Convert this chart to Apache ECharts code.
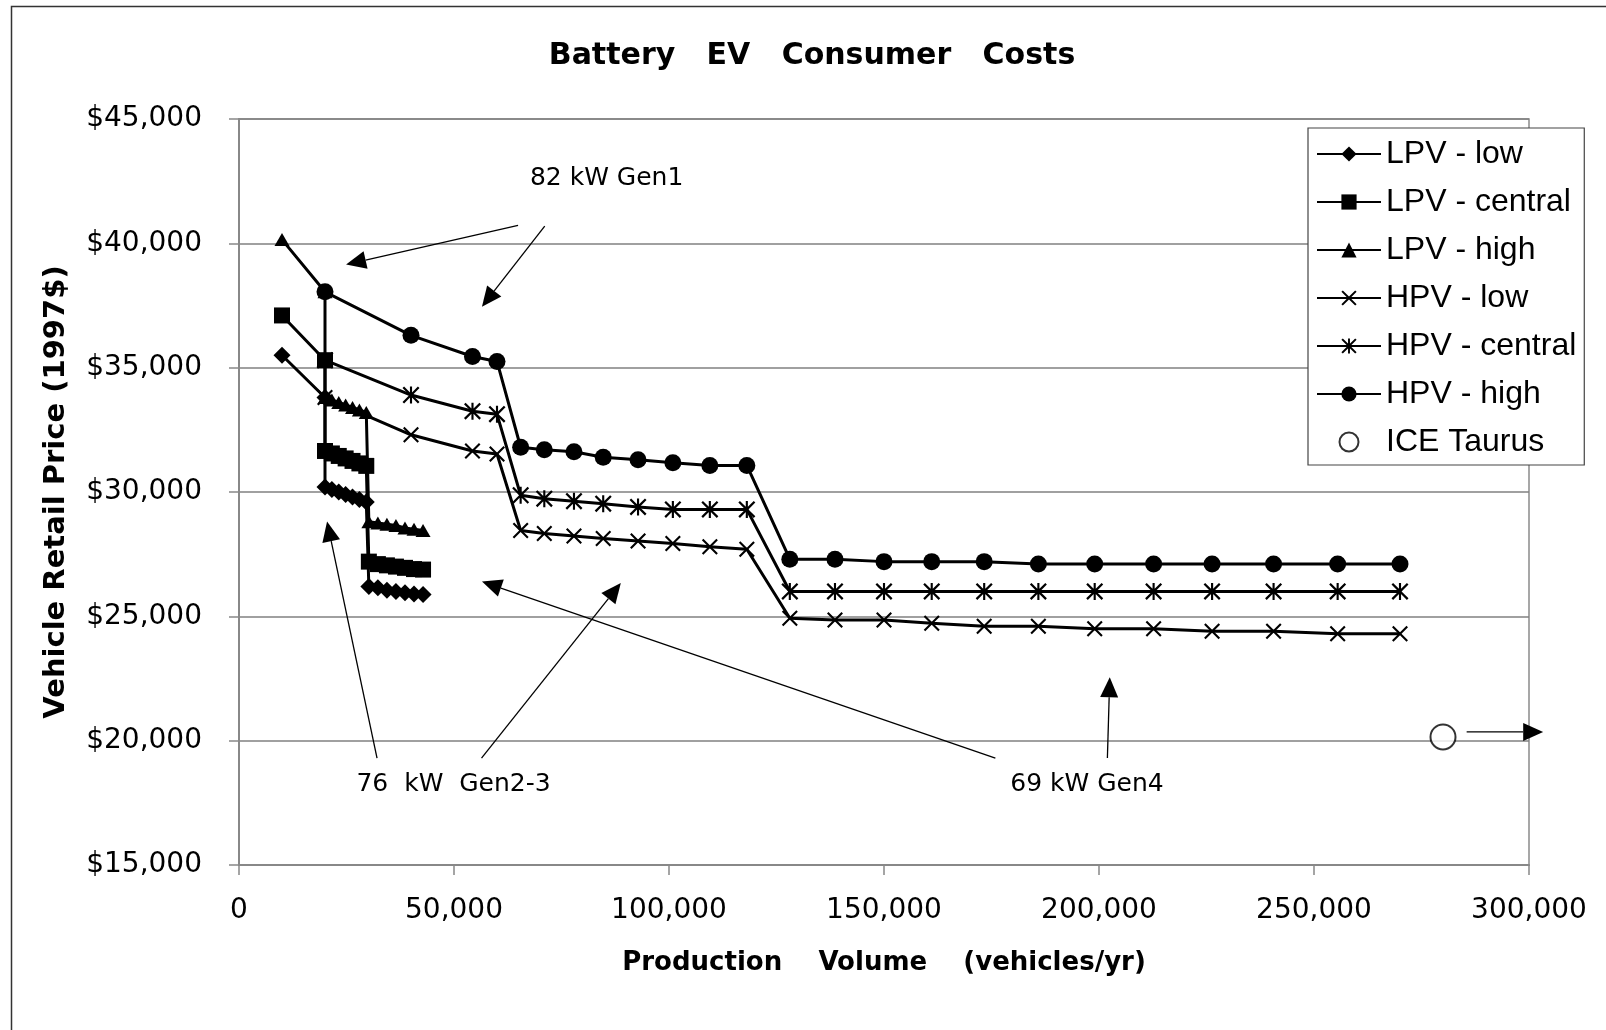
<!DOCTYPE html>
<html><head><meta charset="utf-8">
<script src="https://cdn.jsdelivr.net/npm/echarts@6/dist/echarts.min.js"></script>
<style>html,body{margin:0;padding:0;background:#fff}#c{width:1606px;height:1030px}</style>
</head><body><div id="c"></div>
<script>
// ---- data ----
const lpvX       = [10000, 20000, 20000, 21600, 23200, 24800, 26400, 28000, 29600, 30200, 32300, 34400, 36500, 38600, 40700, 42800];
const lpvLow     = [35500, 33800, 30200, 30100, 30000, 29900, 29800, 29700, 29600, 26200, 26150, 26050, 26000, 25950, 25900, 25880];
const lpvCentral = [37100, 35300, 31650, 31550, 31450, 31350, 31250, 31150, 31050, 27200, 27100, 27050, 27000, 26950, 26900, 26880];
const lpvHigh    = [40150, 38050, 33800, 33700, 33600, 33500, 33400, 33300, 33200, 28800, 28750, 28700, 28650, 28550, 28500, 28450];

const hpvX       = [20000, 40000, 54300, 60000, 65500, 71000, 77900, 84700, 92800, 100900, 109500, 118100, 128100, 138600, 150000, 161100, 173300, 185900, 199000, 212700, 226300, 240600, 255500, 270000];
const hpvLow     = [33800, 32300, 31650, 31530, 28450, 28330, 28230, 28130, 28030, 27930, 27800, 27700, 24920, 24850, 24850, 24720, 24600, 24600, 24500, 24500, 24400, 24400, 24300, 24300];
const hpvCentral = [35300, 33900, 33250, 33130, 29870, 29730, 29630, 29530, 29400, 29300, 29300, 29300, 26000, 26000, 26000, 26000, 26000, 26000, 26000, 26000, 26000, 26000, 26000, 26000];
const hpvHigh    = [38050, 36300, 35450, 35250, 31800, 31700, 31620, 31400, 31300, 31180, 31070, 31070, 27300, 27300, 27200, 27200, 27200, 27100, 27100, 27100, 27100, 27100, 27100, 27100];

const iceX = [280000];
const iceY = [20150];

const seriesNames = ['LPV - low', 'LPV - central', 'LPV - high', 'HPV - low', 'HPV - central', 'HPV - high', 'ICE Taurus'];

// annotations (data units)
const annotX    = [85500, 49900, 197200];
const annotY    = [42610, 18250, 18250];
const annotText = ['82 kW Gen1', '76  kW  Gen2-3', '69 kW Gen4'];

const arrowFromX = [64900, 71100, 32100, 56400, 175900, 201950, 285500];
const arrowFromY = [40720, 40690, 19300, 19300, 19300, 19300, 20350];
const arrowToX   = [24900, 56500, 20480, 88800, 56500, 202500, 303300];
const arrowToY   = [39150, 37450, 28810, 26340, 26400, 22550, 20350];

const xTicks = { min: 0, max: 300000, interval: 50000 };
const yTicks = { min: 15000, max: 45000, interval: 5000 };

// ---- helpers ----
const zip = (xs, ys) => xs.map((x, i) => [x, ys[i]]);
const fmt = v => v.toLocaleString('en-US');

const X_PATH = 'path://M0,1.5L1.5,0L8,6.5L14.5,0L16,1.5L9.5,8L16,14.5L14.5,16L8,9.5L1.5,16L0,14.5L6.5,8Z';
const AST_PATH = 'path://M0,1.5L1.5,0L8,6.5L14.5,0L16,1.5L9.5,8L16,14.5L14.5,16L8,9.5L1.5,16L0,14.5L6.5,8Z M7,0L9,0L9,16L7,16Z';

function lineSeries(name, data, symbol, size) {
  return {
    name, type: 'line', data, symbol, symbolSize: size,
    showAllSymbol: true,
    lineStyle: { color: '#000', width: 3 },
    itemStyle: { color: '#000' },
    emphasis: { disabled: true },
    z: 3
  };
}

const chart = echarts.init(document.getElementById('c'), null, { renderer: 'canvas' });

const option = {
  animation: false,
  backgroundColor: '#fff',
  graphic: [
    { type: 'rect', left: 9, top: 4, shape: { width: 1700, height: 1100 }, style: { fill: 'none', stroke: '#333', lineWidth: 1.5 }, z: -10 },
    { type: 'text', x: 812, y: 56, style: { text: 'Battery   EV   Consumer   Costs', font: 'bold 30px "DejaVu Sans"', fill: '#000', textAlign: 'center', textVerticalAlign: 'middle' } }
  ],
  grid: { left: 239, top: 119, width: 1290, height: 746, show: true, borderColor: '#8a8a8a', borderWidth: 1.5, backgroundColor: 'transparent' },
  legend: {
    data: seriesNames,
    orient: 'vertical', left: 1308, top: 128,
    padding: [10, 8, 7, 8],
    backgroundColor: '#fff', borderColor: '#444', borderWidth: 1.2,
    itemWidth: 64, itemHeight: 19, itemGap: 16, itemTextGap: 5,
    lineStyle: { width: 2 },
    textStyle: { fontFamily: '"Liberation Sans"', fontSize: 32, color: '#000' },
    selectedMode: false
  },
  xAxis: {
    type: 'value', min: xTicks.min, max: xTicks.max, interval: xTicks.interval,
    name: 'Production    Volume    (vehicles/yr)', nameLocation: 'middle', nameGap: 85,
    nameTextStyle: { fontFamily: '"DejaVu Sans"', fontWeight: 'bold', fontSize: 26, color: '#000' },
    axisLine: { lineStyle: { color: '#888', width: 2 } },
    axisTick: { show: true, inside: false, length: 10, lineStyle: { color: '#888', width: 1.5 } },
    axisLabel: { margin: 32, color: '#000', fontFamily: '"DejaVu Sans"', fontSize: 28, formatter: v => fmt(v) },
    splitLine: { show: false }
  },
  yAxis: {
    type: 'value', min: yTicks.min, max: yTicks.max, interval: yTicks.interval,
    name: 'Vehicle Retail Price (1997$)', nameLocation: 'middle', nameRotate: 90, nameGap: 168,
    nameTextStyle: { fontFamily: '"DejaVu Sans"', fontWeight: 'bold', fontSize: 29, color: '#000' },
    axisLine: { show: true, lineStyle: { color: '#888', width: 2 } },
    axisTick: { show: true, inside: false, length: 10, lineStyle: { color: '#888', width: 1.5 } },
    axisLabel: { margin: 37, color: '#000', fontFamily: '"DejaVu Sans"', fontSize: 28, formatter: v => '$' + fmt(v) },
    splitLine: { show: true, lineStyle: { color: '#808080', width: 1.5 } }
  },
  series: [
    lineSeries(seriesNames[0], zip(lpvX, lpvLow), 'diamond', 17),
    lineSeries(seriesNames[1], zip(lpvX, lpvCentral), 'rect', 16),
    lineSeries(seriesNames[2], zip(lpvX, lpvHigh), 'triangle', [15, 13]),
    lineSeries(seriesNames[3], zip(hpvX, hpvLow), X_PATH, 16),
    lineSeries(seriesNames[4], zip(hpvX, hpvCentral), AST_PATH, 17),
    lineSeries(seriesNames[5], zip(hpvX, hpvHigh), 'circle', 17),
    {
      name: seriesNames[6], type: 'scatter', data: zip(iceX, iceY),
      symbol: 'circle', symbolSize: 25,
      itemStyle: { color: '#fff', borderColor: '#000', borderWidth: 2 },
      emphasis: { disabled: true }, z: 4
    },
    {
      name: 'arrows', type: 'custom', silent: true, clip: false, z: 5,
      data: arrowFromX.map((x, i) => [x, arrowFromY[i], arrowToX[i], arrowToY[i]]),
      renderItem: (params, api) => {
        const p1 = api.coord([api.value(0), api.value(1)]);
        const p2 = api.coord([api.value(2), api.value(3)]);
        const dx = p2[0] - p1[0], dy = p2[1] - p1[1];
        const len = Math.hypot(dx, dy);
        const ux = dx / len, uy = dy / len;
        const hl = 20, hw = 9;
        const bx = p2[0] - ux * hl, by = p2[1] - uy * hl;
        return {
          type: 'group', children: [
            { type: 'line', shape: { x1: p1[0], y1: p1[1], x2: bx, y2: by }, style: { stroke: '#000', lineWidth: 1.3 } },
            { type: 'polygon', shape: { points: [[p2[0], p2[1]], [bx - uy * hw, by + ux * hw], [bx + uy * hw, by - ux * hw]] }, style: { fill: '#000' } }
          ]
        };
      }
    },
    {
      name: 'notes', type: 'custom', silent: true, clip: false, z: 5,
      data: annotX.map((x, i) => [x, annotY[i]]),
      renderItem: (params, api) => {
        const p = api.coord([api.value(0), api.value(1)]);
        return { type: 'text', x: p[0], y: p[1], style: { text: annotText[params.dataIndex], font: '25px "DejaVu Sans"', fill: '#000', textAlign: 'center', textVerticalAlign: 'middle' } };
      }
    }
  ]
};
chart.setOption(option);
</script>
</body></html>
